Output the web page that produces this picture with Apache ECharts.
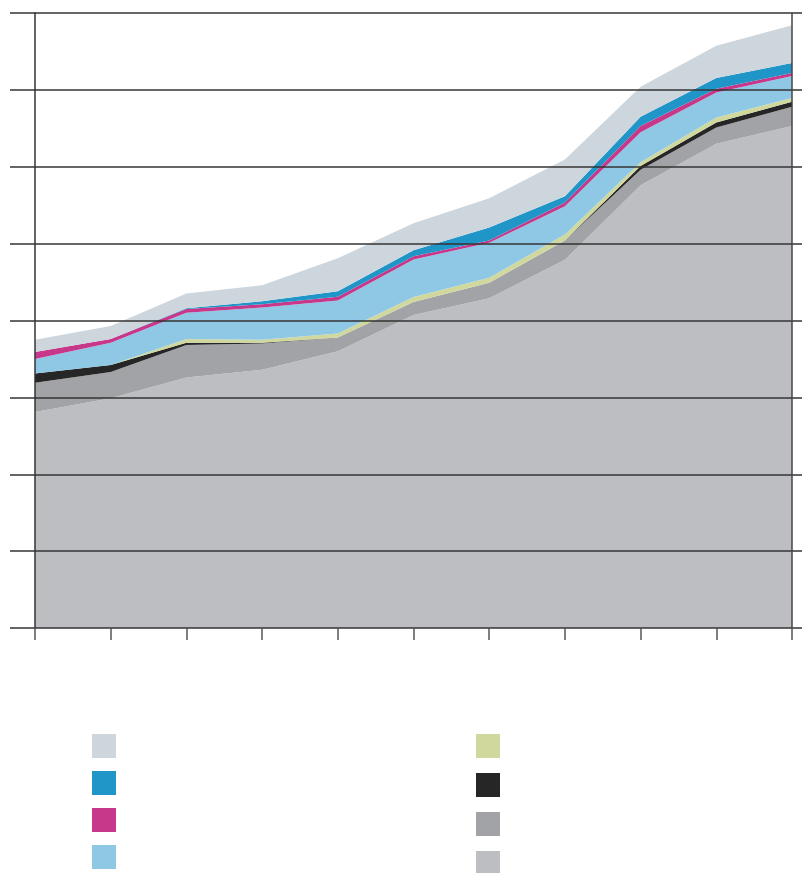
<!DOCTYPE html>
<html>
<head>
<meta charset="utf-8">
<script src="https://cdn.jsdelivr.net/npm/echarts@6/dist/echarts.min.js"></script>
<style>html,body{margin:0;padding:0;background:#fff}#c{width:802px;height:873px}</style>
</head>
<body>
<div id="c"></div>
<script>
const categories = ['0','1','2','3','4','5','6','7','8','9','10'];
const lightGray = [28.1, 29.9, 32.6, 33.6, 36.0, 40.7, 42.9, 47.9, 57.6, 63.0, 65.3];
const midGray   = [3.8, 3.4, 4.2, 3.4, 1.8, 1.7, 2.0, 2.5, 2.0, 2.1, 2.5];
const black     = [1.2, 0.9, 0.3, 0.1, 0, 0, 0, 0, 0.5, 0.65, 0.65];
const olive     = [0, 0, 0.5, 0.4, 0.5, 0.65, 0.65, 0.8, 0.5, 0.65, 0.5];
const lightBlue = [1.9, 2.9, 3.4, 4.2, 4.3, 4.9, 4.55, 3.65, 3.9, 3.25, 2.85];
const magenta   = [0.9, 0.5, 0.5, 0.4, 0.5, 0.4, 0.3, 0.5, 0.8, 0.5, 0.4];
const blue      = [0, 0, 0.1, 0.4, 0.7, 0.8, 1.7, 0.8, 1.2, 1.4, 1.3];
const topGray   = [1.6, 1.7, 1.9, 2.1, 4.3, 3.5, 3.8, 4.8, 3.9, 4.2, 4.9];
const yTicks = [0, 10, 20, 30, 40, 50, 60, 70, 80];

const layers = [
  {name: 'Series 1', data: lightGray, color: '#bdbec2'},
  {name: 'Series 2', data: midGray, color: '#a2a3a6'},
  {name: 'Series 3', data: black, color: '#262626'},
  {name: 'Series 4', data: olive, color: '#d0d89e'},
  {name: 'Series 5', data: lightBlue, color: '#8fc8e5'},
  {name: 'Series 6', data: magenta, color: '#c7388a'},
  {name: 'Series 7', data: blue, color: '#2096c8'},
  {name: 'Series 8', data: topGray, color: '#cdd5dd'}
];

const chart = echarts.init(document.getElementById('c'), null, {renderer: 'canvas'});
const yMax = yTicks[yTicks.length - 1];
const yStep = yTicks[1] - yTicks[0];

chart.setOption({
  animation: false,
  backgroundColor: '#ffffff',
  grid: [
    {left: 35, right: 10, top: 13, bottom: 245},
    {left: 10, right: 0, top: 13, bottom: 245}
  ],
  xAxis: [
    {
      gridIndex: 0, type: 'category', data: categories, boundaryGap: false,
      axisLine: {show: false},
      axisTick: {show: true, length: 12, lineStyle: {color: '#555', width: 1.5}},
      axisLabel: {show: false}, splitLine: {show: false}, z: 10
    },
    {
      gridIndex: 1, type: 'value', min: 0, max: 1, show: false
    }
  ],
  yAxis: [
    {
      gridIndex: 0, type: 'value', min: 0, max: yMax, interval: yStep, position: 'left',
      axisLine: {show: true, lineStyle: {color: '#333', width: 1.5}},
      axisTick: {show: false}, axisLabel: {show: false}, splitLine: {show: false}, z: 10
    },
    {
      gridIndex: 0, type: 'value', min: 0, max: yMax, interval: yStep, position: 'right',
      axisLine: {show: true, lineStyle: {color: '#444', width: 1.5}},
      axisTick: {show: false}, axisLabel: {show: false}, splitLine: {show: false}, z: 10
    },
    {
      gridIndex: 1, type: 'value', min: 0, max: yMax, interval: yStep,
      axisLine: {show: false}, axisTick: {show: false}, axisLabel: {show: false},
      splitLine: {show: true, showMinLine: true, showMaxLine: true, lineStyle: {color: '#333', width: 1.5}},
      z: 10
    }
  ],
  legend: [
    {
      left: 92, top: 734, height: 200, padding: 0, orient: 'vertical', itemWidth: 24, itemHeight: 24, itemGap: 13,
      icon: 'rect', selectedMode: false, formatter: () => '',
      data: ['Series 8', 'Series 7', 'Series 6', 'Series 5']
    },
    {
      left: 476, top: 734, height: 200, padding: 0, orient: 'vertical', itemWidth: 24, itemHeight: 24, itemGap: 15,
      icon: 'rect', selectedMode: false, formatter: () => '',
      data: ['Series 4', 'Series 3', 'Series 2', 'Series 1']
    }
  ],
  series: layers.map(l => ({
    name: l.name, type: 'line', stack: 'total', xAxisIndex: 0, yAxisIndex: 0,
    data: l.data, showSymbol: false, symbol: 'none',
    lineStyle: {width: 0, color: l.color},
    itemStyle: {color: l.color},
    areaStyle: {color: l.color, opacity: 1},
    emphasis: {disabled: true}
  }))
});
</script>
</body>
</html>
